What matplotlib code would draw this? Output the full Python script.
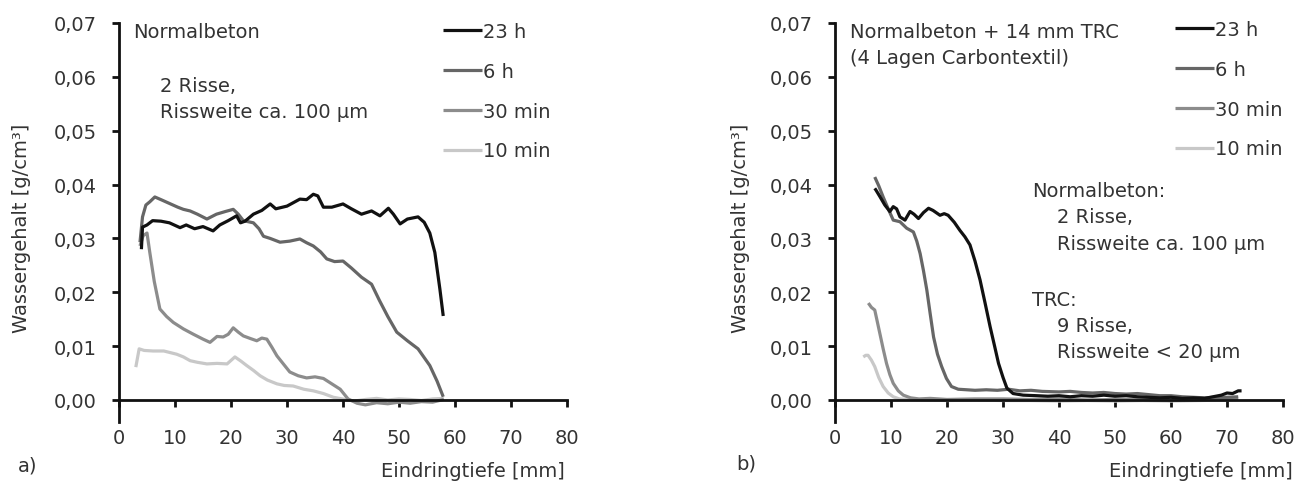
import matplotlib
matplotlib.use("Agg")
import matplotlib.pyplot as plt
from matplotlib.ticker import FuncFormatter

# ---- Daten: Wassergehalt über Eindringtiefe ----
series_labels = ["23 h", "6 h", "30 min", "10 min"]
series_colors = ["#111111", "#666666", "#8c8c8c", "#c8c8c8"]

# a) Normalbeton
a_23h_x = [4.0, 4.2, 5.0, 6.0, 7.5, 9.0, 10.9, 12.0, 13.5, 15.0, 16.8, 18.0, 19.5, 21.0, 21.7, 22.5,
           24.0, 25.5, 27.0, 28.0, 30.0, 32.3, 33.5, 34.7, 35.5, 36.5, 38.0, 40.0, 41.5, 43.3, 45.1,
           46.6, 48.1, 49.0, 50.2, 51.5, 53.4, 54.5, 55.5, 56.4, 57.3, 57.9]
a_23h_y = [0.028, 0.0321, 0.0325, 0.0333, 0.0332, 0.0329, 0.032, 0.0325, 0.0318, 0.0322, 0.0314,
           0.0325, 0.0333, 0.0342, 0.0329, 0.0332, 0.0345, 0.0352, 0.0364, 0.0355, 0.036, 0.0373,
           0.0372, 0.0382, 0.0379, 0.0358, 0.0358, 0.0364, 0.0355, 0.0345, 0.0351, 0.0342, 0.0356,
           0.0345, 0.0327, 0.0336, 0.034, 0.033, 0.031, 0.0274, 0.0206, 0.0156]

a_6h_x = [3.75, 4.2, 4.8, 5.5, 6.4, 7.5, 9.0, 10.5, 11.5, 12.7, 14.0, 15.7, 17.4, 19.0, 20.4, 21.3,
          22.2, 24.0, 25.0, 25.8, 27.0, 28.75, 30.5, 32.3, 33.5, 34.7, 36.0, 37.1, 38.5, 40.0, 41.5,
          43.3, 45.1, 46.5, 48.0, 49.6, 51.5, 53.4, 55.5, 56.8, 57.9]
a_6h_y = [0.0293, 0.034, 0.0362, 0.0368, 0.0377, 0.0372, 0.0365, 0.0358, 0.0354, 0.0351, 0.0345,
          0.0336, 0.0345, 0.035, 0.0354, 0.0345, 0.0333, 0.0329, 0.0318, 0.0304, 0.03, 0.0293,
          0.0295, 0.0299, 0.0292, 0.0286, 0.0275, 0.0262, 0.0257, 0.0258, 0.0245, 0.0228, 0.0215,
          0.0185, 0.0155, 0.0126, 0.011, 0.0095, 0.0064, 0.0035, 0.0006]

a_30min_x = [3.75, 4.3, 5.0, 5.5, 6.3, 7.3, 8.5, 9.7, 11.5, 13.3, 15.0, 16.25, 17.5, 18.6, 19.5,
             20.4, 21.3, 22.2, 23.5, 24.6, 25.5, 26.4, 27.3, 28.2, 29.5, 30.5, 32.0, 33.5, 35.0,
             36.5, 38.0, 39.5, 40.9, 42.5, 44.0, 46.0, 48.0, 50.0, 52.0, 54.0, 56.0, 58.0]
a_30min_y = [0.0286, 0.0305, 0.031, 0.0274, 0.022, 0.0169, 0.0155, 0.0144, 0.0132, 0.0122, 0.0113,
             0.0107, 0.0118, 0.0117, 0.0122, 0.0134, 0.0126, 0.0119, 0.0114, 0.011, 0.0115, 0.0113,
             0.0098, 0.0082, 0.0065, 0.0052, 0.0045, 0.0041, 0.0043, 0.004, 0.003, 0.002, 0.0002,
             -0.0006, -0.0009, -0.0005, -0.0007, -0.0004, -0.0006, -0.0003, -0.0004, 0.0001]

a_10min_x = [3.0, 3.6, 4.5, 6.1, 8.0, 10.3, 11.5, 12.7, 14.0, 15.7, 17.5, 19.3, 20.7, 21.8, 22.8,
             24.0, 25.2, 26.5, 28.2, 29.5, 31.1, 33.0, 34.7, 36.5, 38.3, 40.4, 42.0, 44.0, 46.0,
             48.0, 50.0, 52.0, 54.0, 56.0, 58.0]
a_10min_y = [0.0061, 0.0095, 0.0092, 0.0091, 0.0091, 0.0085, 0.008, 0.0073, 0.007, 0.0067, 0.0068,
             0.0067, 0.008, 0.0072, 0.0064, 0.0055, 0.0045, 0.0037, 0.003, 0.0027, 0.0026, 0.002,
             0.0017, 0.0012, 0.0005, 0.0001, -0.0002, 0.0001, 0.0003, 0.0, 0.0002, 0.0001, -0.0001,
             0.0002, 0.0003]

# b) Normalbeton + 14 mm TRC
b_23h_x = [7.1, 7.3, 8.0, 8.9, 9.8, 10.4, 11.0, 11.6, 12.5, 13.4, 14.1, 14.9, 15.8, 16.7, 17.5,
           18.75, 19.5, 20.2, 21.3, 22.3, 23.2, 24.1, 25.0, 25.9, 26.8, 27.7, 28.5, 29.2, 30.0,
           30.7, 31.8, 33.6, 36.0, 38.0, 40.0, 42.0, 44.0, 46.0, 48.0, 50.0, 52.0, 54.0, 56.0,
           58.0, 60.0, 62.0, 64.0, 66.0, 67.5, 69.0, 70.0, 71.0, 72.0, 72.6]
b_23h_y = [0.0393, 0.039, 0.0378, 0.0362, 0.035, 0.0359, 0.0355, 0.034, 0.0334, 0.035, 0.0345,
           0.0337, 0.0348, 0.0356, 0.0352, 0.0343, 0.0346, 0.0343, 0.033, 0.0315, 0.0303, 0.0288,
           0.0258, 0.0223, 0.018, 0.0136, 0.01, 0.0068, 0.0042, 0.0022, 0.0012, 0.0009, 0.0008,
           0.0007, 0.0008, 0.0006, 0.0008, 0.0007, 0.0009, 0.0007, 0.0008, 0.0006, 0.0005, 0.0004,
           0.0005, 0.0003, 0.0004, 0.0003, 0.0006, 0.0009, 0.0013, 0.0012, 0.0017, 0.0017]

b_6h_x = [7.1, 7.8, 8.6, 9.5, 10.4, 11.6, 12.8, 14.0, 14.6, 15.2, 15.8, 16.4, 17.0, 17.6, 18.3,
          19.05, 19.9, 20.8, 22.0, 23.5, 25.0, 27.0, 29.0, 31.0, 33.0, 35.0, 37.0, 40.0, 42.0,
          44.0, 46.0, 48.0, 50.0, 52.0, 54.0, 56.0, 58.0, 60.0, 62.0, 64.0, 66.0, 68.0, 70.0, 72.0]
b_6h_y = [0.0414, 0.0398, 0.0377, 0.0355, 0.0334, 0.0331, 0.0319, 0.0312, 0.0295, 0.0272, 0.024,
          0.0204, 0.016, 0.0117, 0.0085, 0.0062, 0.004, 0.0025, 0.002, 0.0019, 0.0018, 0.0019,
          0.0018, 0.002, 0.0017, 0.0018, 0.0016, 0.0015, 0.0016, 0.0014, 0.0013, 0.0014, 0.0012,
          0.0011, 0.0012, 0.001, 0.0008, 0.0008, 0.0006, 0.0005, 0.0004, 0.0005, 0.0005, 0.0006]

b_30min_x = [5.95, 6.5, 7.1, 7.5, 8.0, 8.6, 9.2, 9.8, 10.4, 11.3, 12.2, 13.5, 15.0, 17.0, 20.0,
             25.0, 30.0, 35.0, 40.0, 45.0, 50.0, 55.0, 60.0, 65.0, 70.0, 72.0]
b_30min_y = [0.018, 0.0172, 0.0167, 0.0148, 0.0124, 0.0095, 0.0068, 0.0047, 0.0031, 0.0017, 0.0009,
             0.0004, 0.0002, 0.0003, 0.0001, 0.0002, 0.0002, 0.0001, 0.0002, 0.0, 0.0001, 0.0001,
             -0.0001, 0.0001, 0.0002, 0.0003]

b_10min_x = [5.05, 5.5, 5.9, 6.5, 7.1, 7.8, 8.6, 9.5, 10.4, 11.5, 13.0, 16.0, 20.0, 25.0, 30.0,
             35.0, 40.0, 45.0, 50.0, 55.0, 60.0, 65.0, 70.0, 72.0]
b_10min_y = [0.008, 0.0083, 0.0083, 0.0074, 0.0062, 0.0042, 0.0025, 0.0013, 0.0006, 0.0002, 0.0001,
             0.0, -0.0001, 0.0, -0.0001, -0.0001, -0.0002, -0.0001, -0.0002, -0.0001, -0.0002,
             -0.0001, 0.0, 0.0001]

x_ticks = [0, 10, 20, 30, 40, 50, 60, 70, 80]
y_ticks = [0.0, 0.01, 0.02, 0.03, 0.04, 0.05, 0.06, 0.07]
x_label = "Eindringtiefe [mm]"
y_label = "Wassergehalt [g/cm³]"

W, H = 1309, 485
TXT = "#333333"
FS = 14

plt.rcParams["font.family"] = ["DejaVu Sans"]
fig = plt.figure(figsize=(W / 100, H / 100), dpi=100)


def px(x, y):
    return x / W, 1 - y / H


def make_axes(left_px, ylo=-0.004):
    y0 = 401.0
    per = (401.0 - 24.0) / 0.07
    bottom = y0 - ylo * per
    ax = fig.add_axes([left_px / W, 1 - bottom / H, 448 / W, (bottom - 24.0) / H])
    ax.set_xlim(0, 80)
    ax.set_ylim(ylo, 0.07)
    for s in ("top", "right"):
        ax.spines[s].set_visible(False)
    ax.spines["bottom"].set_position(("data", 0))
    ax.spines["left"].set_bounds(ylo, 0.07)
    for s in ("left", "bottom"):
        ax.spines[s].set_linewidth(2.0)
        ax.spines[s].set_color("#111111")
    ax.set_xticks(x_ticks)
    ax.set_yticks(y_ticks)
    ax.yaxis.set_major_formatter(FuncFormatter(lambda v, p: f"{v:.2f}".replace(".", ",")))
    ax.tick_params(axis="y", direction="out", length=5, width=2.0, pad=11,
                   labelsize=FS, labelcolor=TXT, color="#111111")
    ax.tick_params(axis="x", direction="out", length=5, width=2.0, pad=15,
                   labelsize=FS, labelcolor=TXT, color="#111111")
    ax.patch.set_visible(False)
    return ax


def draw(ax, xs, ys):
    handles = {}
    for i in [3, 2, 1, 0]:
        ln, = ax.plot(xs[i], ys[i], color=series_colors[i], lw=2.3,
                      solid_joinstyle="round", solid_capstyle="butt", label=series_labels[i])
        handles[i] = ln
    return [handles[i] for i in range(4)]


def legend(ax, handles, x_px, y_px):
    ax.legend(handles, series_labels, loc="upper left",
              bbox_to_anchor=px(x_px, y_px), bbox_transform=fig.transFigure,
              frameon=False, fontsize=FS, labelcolor=TXT, handlelength=2.0,
              handletextpad=0.08, labelspacing=1.07, borderpad=0, borderaxespad=0)


# ---- a) ----
ax_a = make_axes(119)
h_a = draw(ax_a, [a_23h_x, a_6h_x, a_30min_x, a_10min_x], [a_23h_y, a_6h_y, a_30min_y, a_10min_y])
legend(ax_a, h_a, 443, 23)

# ---- b) ----
ax_b = make_axes(835)
h_b = draw(ax_b, [b_23h_x, b_6h_x, b_30min_x, b_10min_x], [b_23h_y, b_6h_y, b_30min_y, b_10min_y])
legend(ax_b, h_b, 1175, 21)

# axis titles
for xl, yl_x in ((565, 22), (1293, 740)):
    fig.text(*px(xl, 472), x_label, ha="right", va="center", fontsize=FS, color=TXT)
    fig.text(*px(yl_x, 228), y_label, ha="center", va="center", rotation=90, fontsize=FS, color=TXT)

fig.text(*px(18, 466), "a)", ha="left", va="center", fontsize=FS, color=TXT)
fig.text(*px(736, 464), "b)", ha="left", va="center", fontsize=FS, color=TXT)

# annotations a)
fig.text(*px(133, 32), "Normalbeton", ha="left", va="center", fontsize=FS, color=TXT)
fig.text(*px(160, 87), "2 Risse,", ha="left", va="center", fontsize=FS, color=TXT)
fig.text(*px(160, 113), "Rissweite ca. 100 µm", ha="left", va="center", fontsize=FS, color=TXT)

# annotations b)
fig.text(*px(850, 32), "Normalbeton + 14 mm TRC", ha="left", va="center", fontsize=FS, color=TXT)
fig.text(*px(850, 58), "(4 Lagen Carbontextil)", ha="left", va="center", fontsize=FS, color=TXT)
fig.text(*px(1032, 192), "Normalbeton:", ha="left", va="center", fontsize=FS, color=TXT)
fig.text(*px(1057, 218), "2 Risse,", ha="left", va="center", fontsize=FS, color=TXT)
fig.text(*px(1057, 245), "Rissweite ca. 100 µm", ha="left", va="center", fontsize=FS, color=TXT)
fig.text(*px(1032, 300), "TRC:", ha="left", va="center", fontsize=FS, color=TXT)
fig.text(*px(1057, 327), "9 Risse,", ha="left", va="center", fontsize=FS, color=TXT)
fig.text(*px(1057, 353), "Rissweite < 20 µm", ha="left", va="center", fontsize=FS, color=TXT)

fig.savefig("out.png", dpi=100, facecolor="white")
